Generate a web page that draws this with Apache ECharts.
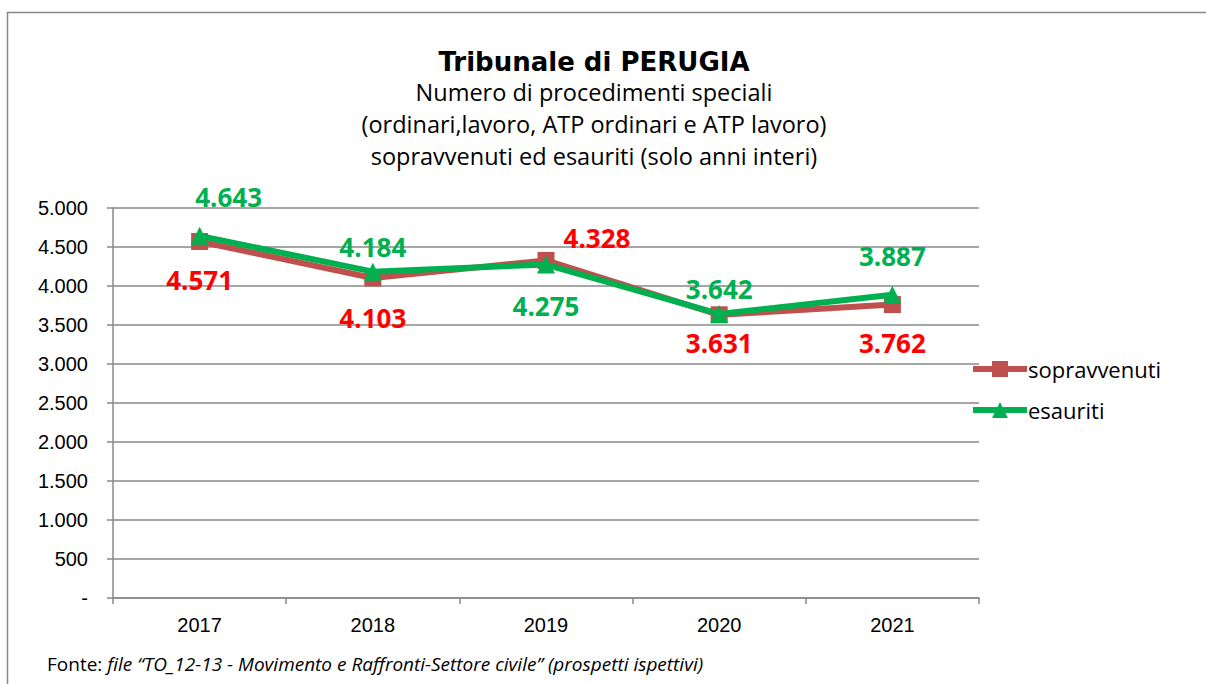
<!DOCTYPE html>
<html>
<head>
<meta charset="utf-8">
<script src="https://cdn.jsdelivr.net/npm/echarts@6/dist/echarts.min.js"></script>
<style>
  html, body { margin: 0; padding: 0; background: #fff; }
  #chart { width: 1206px; height: 684px; }
</style>
</head>
<body>
<div id="chart"></div>
<script>
const years = ['2017', '2018', '2019', '2020', '2021'];
const sopravvenuti = [4571, 4103, 4328, 3631, 3762];
const esauriti = [4643, 4184, 4275, 3642, 3887];
const yTicks = [0, 500, 1000, 1500, 2000, 2500, 3000, 3500, 4000, 4500, 5000];

// where each data label sits relative to its point: [position, dx, dy]
const soprLabelPos = [['bottom', 0, 12], ['bottom', 0, 14], ['top', 51, 4], ['bottom', 0, 2], ['bottom', 0, 12]];
const esauLabelPos = [['top', 29, -12], ['top', 0, 2], ['bottom', 0, 14], ['top', 0, 2], ['top', 0, -12]];

const fmt = v => v === 0 ? '-' : v.toLocaleString('de-DE');

function withLabels(values, layout, color) {
    return values.map((v, i) => ({
        value: v,
        label: {
            show: true,
            position: layout[i][0],
            offset: [layout[i][1], layout[i][2]],
            color: color,
            fontFamily: 'Open Sans',
            fontWeight: 'bold',
            fontSize: 26,
            formatter: p => fmt(p.value)
        }
    }));
}

const chart = echarts.init(document.getElementById('chart'), null, { renderer: 'svg' });

chart.setOption({
    animation: false,
    title: {
        text: 'Tribunale di PERUGIA',
        subtext: 'Numero di procedimenti speciali\n(ordinari,lavoro, ATP ordinari e ATP lavoro)\nsopravvenuti ed esauriti (solo anni interi)',
        left: 589,
        textAlign: 'center',
        top: 44,
        itemGap: 1,
        textStyle: { fontFamily: 'DejaVu Sans', fontWeight: 'bold', fontSize: 26, color: '#000' },
        subtextStyle: { fontFamily: 'Open Sans', fontSize: 23.5, color: '#000', lineHeight: 32 }
    },
    legend: {
        orient: 'vertical',
        left: 965,
        top: 353,
        itemWidth: 54,
        itemHeight: 20,
        itemGap: 19,
        lineStyle: { width: 6 },
        textStyle: { fontFamily: 'Open Sans', fontSize: 22, color: '#000', padding: [0, 0, 0, -4] },
        data: ['sopravvenuti', 'esauriti']
    },
    grid: { left: 113, right: 227, top: 208, bottom: 86 },
    xAxis: {
        type: 'category',
        data: years,
        boundaryGap: true,
        axisLine: { lineStyle: { color: '#888', width: 1.5 } },
        axisTick: { show: true, length: 6, alignWithLabel: false, lineStyle: { color: '#888', width: 1.5 } },
        axisLabel: { fontFamily: 'Liberation Sans', fontSize: 20, color: '#000', margin: 17 }
    },
    yAxis: {
        type: 'value',
        min: 0,
        max: 5000,
        interval: 500,
        axisLine: { show: true, lineStyle: { color: '#888', width: 1.5 } },
        axisTick: { show: true, length: 6, lineStyle: { color: '#888', width: 1.5 } },
        splitLine: { lineStyle: { color: '#888', width: 1.5 } },
        axisLabel: {
            fontFamily: 'Liberation Sans',
            fontSize: 20,
            color: '#000',
            margin: 25,
            formatter: v => yTicks.includes(v) ? fmt(v) : ''
        }
    },
    series: [
        {
            name: 'sopravvenuti',
            type: 'line',
            data: withLabels(sopravvenuti, soprLabelPos, '#FF0000'),
            symbol: 'rect',
            symbolSize: 17,
            itemStyle: { color: '#C0504D' },
            lineStyle: { color: '#C0504D', width: 6 },
            z: 2
        },
        {
            name: 'esauriti',
            type: 'line',
            data: withLabels(esauriti, esauLabelPos, '#00B050'),
            symbol: 'triangle',
            symbolSize: 18,
            itemStyle: { color: '#00B050' },
            lineStyle: { color: '#00B050', width: 6 },
            z: 3
        }
    ],
    graphic: [
        {
            type: 'rect',
            shape: { x: 7.5, y: 12.5, width: 1220, height: 700 },
            style: { fill: 'none', stroke: '#888', lineWidth: 1.5 },
            silent: true
        },
        {
            type: 'text',
            left: 47,
            top: 654,
            style: {
                text: '{n|Fonte: }{i|file \u201cTO_12-13 - Movimento e Raffronti-Settore civile\u201d (prospetti ispettivi)}',
                rich: {
                    n: { fontFamily: 'Open Sans', fontSize: 19, fill: '#000' },
                    i: { fontFamily: 'Open Sans', fontStyle: 'italic', fontSize: 19, fill: '#000' }
                }
            }
        }
    ]
});
</script>
</body>
</html>
